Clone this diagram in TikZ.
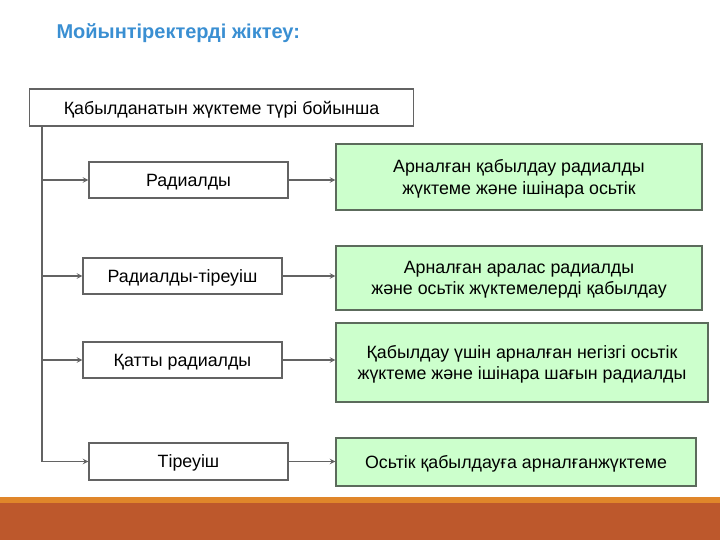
\documentclass[tikz,border=0pt]{standalone}
\usepackage{fontspec}
\setmainfont{Liberation Sans}
\usetikzlibrary{positioning}

\definecolor{titleblue}{HTML}{3A8FD2}
\definecolor{boxgray}{HTML}{636363}
\definecolor{greenfill}{HTML}{CCFFCC}
\definecolor{greenline}{HTML}{5C6B5C}
\definecolor{bandline}{HTML}{E0862A}
\definecolor{bandrust}{HTML}{BD582C}

\tikzset{
  kind/.style={draw=boxgray,line width=1.4pt,fill=white,inner sep=0pt,text depth=0pt,
    font=\fontsize{17.8}{21}\selectfont},
  use/.style={draw=greenline,line width=1.4pt,fill=greenfill,inner sep=0pt,text depth=0pt,
    align=center,font=\fontsize{17.8}{21.5}\selectfont},
  link/.style={-stealth,boxgray,line width=1.4pt}
}

\begin{document}
\begin{tikzpicture}[x=1pt,y=-1pt]
	\useasboundingbox (0,0) rectangle (720,540);
	\fill[bandline] (0,497) rectangle (720,503);
	\fill[bandrust] (0,503) rectangle (720,540);

	\node[anchor=west,text=titleblue,font=\fontsize{20}{24}\bfseries] (title) at (53,33) {Мойынтіректерді жіктеу:};

	\node[kind,minimum width=384pt,minimum height=37pt] (load) at (221.5,107.5) {Қабылданатын жүктеме түрі бойынша};

	\node[kind,minimum width=199pt,minimum height=36pt] (rad) at (188.5,180) {Радиалды};
	\node[kind,minimum width=199pt,minimum height=36pt] (radthr) at (182.5,276) {Радиалды-тіреуіш};
	\node[kind,minimum width=199pt,minimum height=36pt] (stiff) at (182.5,360) {Қатты радиалды};
	\node[kind,minimum width=199pt,minimum height=37pt] (thr) at (188.5,461.5) {Тіреуіш};

	\node[use,minimum width=366pt,minimum height=66pt] (radUse) at (519,177) {Арналған қабылдау радиалды\\жүктеме және ішінара осьтік};
	\node[use,minimum width=366pt,minimum height=64pt] (radthrUse) at (519,278) {Арналған аралас радиалды\\және осьтік жүктемелерді қабылдау};
	\node[use,minimum width=372pt,minimum height=79pt] (stiffUse) at (522,362.5) {Қабылдау үшін арналған негізгі осьтік\\жүктеме және ішінара шағын радиалды};
	\node[use,minimum width=360pt,minimum height=48pt] (thrUse) at (516,462) {Осьтік қабылдауға арналғанжүктеме};

	% trunk from the top box
	\coordinate (trunk) at (load.south west -| 42,0);
	\draw[link] (trunk) |- (thr.west);
	\draw[link] (trunk |- rad.west) -- (rad.west);
	\draw[link] (trunk |- radthr.west) -- (radthr.west);
	\draw[link] (trunk |- stiff.west) -- (stiff.west);

	\draw[link] (rad.east) -- (rad.east -| radUse.west);
	\draw[link] (radthr.east) -- (radthr.east -| radthrUse.west);
	\draw[link] (stiff.east) -- (stiff.east -| stiffUse.west);
	\draw[link] (thr.east) -- (thr.east -| thrUse.west);
\end{tikzpicture}
\end{document}
